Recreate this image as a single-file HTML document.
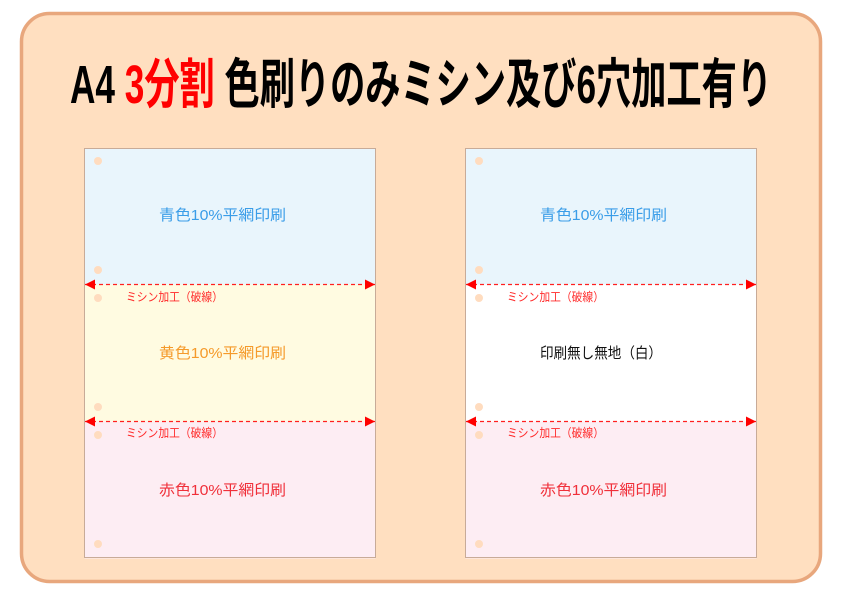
<!DOCTYPE html>
<html><head><meta charset="utf-8"><style>
html,body{margin:0;padding:0;background:#fff;}
svg{display:block;}
text{font-family:"Liberation Sans","Noto Sans CJK JP",sans-serif;}
</style></head><body>
<svg width="842" height="595" viewBox="0 0 842 595" xmlns="http://www.w3.org/2000/svg">
<defs>
<marker id="al" viewBox="0 0 10 10" refX="0" refY="5" markerWidth="10" markerHeight="10" markerUnits="userSpaceOnUse" orient="auto"><path d="M10,0 L0,5 L10,10 Z" fill="#ff0000"/></marker>
<marker id="ar" viewBox="0 0 10 10" refX="10" refY="5" markerWidth="10" markerHeight="10" markerUnits="userSpaceOnUse" orient="auto"><path d="M0,0 L10,5 L0,10 Z" fill="#ff0000"/></marker>
</defs>
<rect x="21.5" y="13.5" width="799" height="568" rx="28" fill="#ffdfc0" stroke="#e8a77d" stroke-width="3.5"/>
<text x="70" y="103" font-size="54" font-weight="bold" textLength="702" lengthAdjust="spacingAndGlyphs" fill="#000"><tspan>A4 </tspan><tspan fill="#ff0000">3分割</tspan><tspan> 色刷りのみミシン及び6穴加工有り</tspan></text>

<rect x="84.5" y="148.5" width="291" height="136" fill="#e9f5fc"/>
<rect x="84.5" y="284.5" width="291" height="137" fill="#fffbe1"/>
<rect x="84.5" y="421.5" width="291" height="137" fill="#fdedf3"/>
<rect x="84.5" y="148.5" width="291" height="409" fill="none" stroke="#c8ab98" stroke-width="1"/>
<rect x="465.5" y="148.5" width="291" height="136" fill="#e9f5fc"/>
<rect x="465.5" y="284.5" width="291" height="137" fill="#ffffff"/>
<rect x="465.5" y="421.5" width="291" height="137" fill="#fdedf3"/>
<rect x="465.5" y="148.5" width="291" height="409" fill="none" stroke="#c8ab98" stroke-width="1"/>

<g fill="#ffdcbf">
<circle cx="98" cy="161" r="4"/><circle cx="98" cy="270" r="4"/><circle cx="98" cy="298" r="4"/>
<circle cx="98" cy="407" r="4"/><circle cx="98" cy="435" r="4"/><circle cx="98" cy="544" r="4"/>
<circle cx="479" cy="161" r="4"/><circle cx="479" cy="270" r="4"/><circle cx="479" cy="298" r="4"/>
<circle cx="479" cy="407" r="4"/><circle cx="479" cy="435" r="4"/><circle cx="479" cy="544" r="4"/>
</g>

<g stroke="#ff2020" stroke-width="1.3" stroke-dasharray="4,3">
<line x1="85" y1="284.5" x2="375" y2="284.5" marker-start="url(#al)" marker-end="url(#ar)"/>
<line x1="85" y1="421.5" x2="375" y2="421.5" marker-start="url(#al)" marker-end="url(#ar)"/>
<line x1="466" y1="284.5" x2="756" y2="284.5" marker-start="url(#al)" marker-end="url(#ar)"/>
<line x1="466" y1="421.5" x2="756" y2="421.5" marker-start="url(#al)" marker-end="url(#ar)"/>
</g>

<g font-size="12" fill="#ff2a2a">
<text x="126" y="301" textLength="97" lengthAdjust="spacingAndGlyphs">ミシン加工（破線）</text>
<text x="126" y="437" textLength="97" lengthAdjust="spacingAndGlyphs">ミシン加工（破線）</text>
<text x="507" y="301" textLength="97" lengthAdjust="spacingAndGlyphs">ミシン加工（破線）</text>
<text x="507" y="437" textLength="97" lengthAdjust="spacingAndGlyphs">ミシン加工（破線）</text>
</g>

<g font-size="15">
<text x="159" y="220" fill="#3a9de8" textLength="127" lengthAdjust="spacingAndGlyphs">青色10%平網印刷</text>
<text x="159" y="358" fill="#f59a2a" textLength="127" lengthAdjust="spacingAndGlyphs">黄色10%平網印刷</text>
<text x="159" y="495" fill="#f0303a" textLength="127" lengthAdjust="spacingAndGlyphs">赤色10%平網印刷</text>
<text x="540" y="220" fill="#3a9de8" textLength="127" lengthAdjust="spacingAndGlyphs">青色10%平網印刷</text>
<text x="540" y="358" fill="#111" textLength="122" lengthAdjust="spacingAndGlyphs">印刷無し無地（白）</text>
<text x="540" y="495" fill="#f0303a" textLength="127" lengthAdjust="spacingAndGlyphs">赤色10%平網印刷</text>
</g>
</svg>
</body></html>
